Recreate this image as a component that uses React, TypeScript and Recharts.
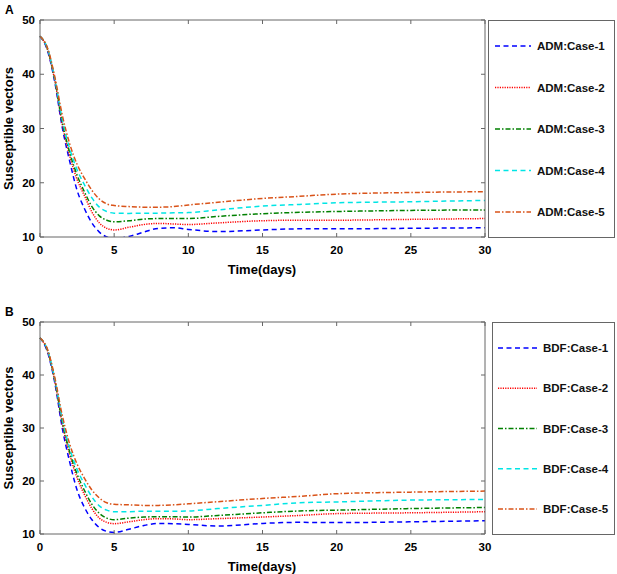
import React from 'react';
import { LineChart, Line, XAxis, YAxis, Legend, Label } from 'recharts';

// time grid (days)
const time = [0, 0.5, 1, 1.5, 2, 2.5, 3, 3.5, 4, 4.5, 5, 6, 7, 8, 9, 10, 12, 15, 17.5, 20, 25, 30];

// panel A: ADM
const admCase1 = [47, 44.4, 38.5, 30.2, 24, 18.6, 15.2, 12.6, 10.9, 10.0, 9.7, 10.1, 10.9, 11.6, 11.7, 11.4, 11.0, 11.3, 11.5, 11.5, 11.6, 11.7];
const admCase2 = [47, 44.6, 38.8, 30.8, 25, 20.6, 17.6, 14.6, 12.6, 11.6, 11.3, 11.8, 12.3, 12.5, 12.4, 12.3, 12.6, 13.0, 13.1, 13.1, 13.25, 13.4];
const admCase3 = [47, 44.7, 39.0, 31.2, 25.6, 21.4, 18.3, 15.6, 13.9, 13.1, 12.8, 13.0, 13.3, 13.4, 13.4, 13.4, 13.8, 14.3, 14.55, 14.7, 14.9, 15.0];
const admCase4 = [47, 44.8, 39.2, 31.7, 26.3, 22.4, 19.6, 17.2, 15.5, 14.7, 14.4, 14.35, 14.4, 14.4, 14.45, 14.5, 15.0, 15.7, 16.0, 16.3, 16.5, 16.75];
const admCase5 = [47, 44.9, 39.5, 32.5, 27.2, 23.4, 20.8, 18.6, 17.0, 16.1, 15.8, 15.6, 15.5, 15.5, 15.6, 15.9, 16.4, 17.1, 17.5, 17.9, 18.2, 18.35];

// panel B: BDF
const bdfCase1 = [47, 44.4, 38.5, 30.0, 23.6, 18.3, 15.0, 12.7, 11.2, 10.5, 10.3, 10.9, 11.6, 12.0, 11.95, 11.8, 11.5, 12.0, 12.2, 12.15, 12.3, 12.5];
const bdfCase2 = [47, 44.6, 38.8, 30.8, 25.0, 20.6, 17.4, 14.8, 13.0, 12.2, 11.95, 12.3, 12.7, 12.9, 12.85, 12.7, 12.9, 13.2, 13.5, 13.85, 14.0, 14.2];
const bdfCase3 = [47, 44.7, 39.0, 31.2, 25.5, 21.3, 18.2, 15.6, 13.9, 13.0, 12.7, 13.0, 13.2, 13.25, 13.25, 13.2, 13.5, 14.0, 14.35, 14.5, 14.8, 15.0];
const bdfCase4 = [47, 44.8, 39.2, 31.7, 26.2, 22.2, 19.4, 17.0, 15.3, 14.5, 14.2, 14.2, 14.3, 14.3, 14.3, 14.35, 14.8, 15.4, 15.9, 16.05, 16.4, 16.5];
const bdfCase5 = [47, 44.9, 39.5, 32.4, 27.0, 23.2, 20.5, 18.3, 16.8, 15.9, 15.6, 15.5, 15.4, 15.4, 15.5, 15.7, 16.1, 16.7, 17.1, 17.6, 17.9, 18.1];

const xTicks = [0, 5, 10, 15, 20, 25, 30];
const yTicks = [10, 20, 30, 40, 50];

const caseNames = ['Case-1', 'Case-2', 'Case-3', 'Case-4', 'Case-5'];
const colors = ['#0000FF', '#FF0000', '#008000', '#00E5E5', '#D95319'];
const dashes = ['5 3.5', '1.2 1.2', '5 2 1.5 2', '5 3.5', '5 2 1.5 2'];

const FONT = '"Liberation Sans", Arial, sans-serif';
const AXIS = '#666666';

const buildRows = (series: number[][]) =>
  time.map((t, i) => {
    const row: any = { t };
    series.forEach((s, k) => (row['c' + k] = s[i]));
    return row;
  });

const rowsA = buildRows([admCase1, admCase2, admCase3, admCase4, admCase5]);
const rowsB = buildRows([bdfCase1, bdfCase2, bdfCase3, bdfCase4, bdfCase5]);

const tickStyle = { fontFamily: FONT, fontSize: 11.5, fontWeight: 'bold', fill: '#000' };

const makeLegend = (prefix: string, w: number, h: number, x1: number, x2: number) => () => {
  const step = (h - 52) / 4;
  return (
    <svg width={w} height={h} style={{ display: 'block' }}>
      <rect x={0.5} y={0.5} width={w - 1} height={h - 1} fill="#fff" stroke={AXIS} strokeWidth={1} />
      {caseNames.map((c, i) => (
        <g key={c}>
          <line x1={x1} x2={x2} y1={26 + i * step} y2={26 + i * step} stroke={colors[i]} strokeWidth={1.5} strokeDasharray={dashes[i]} />
          <text x={x2 + 6} y={26 + i * step + 4} fontFamily={FONT} fontSize={11.5} fontWeight="bold" fill="#111">
            {prefix + ':' + c}
          </text>
        </g>
      ))}
    </svg>
  );
};

type PanelProps = {
  letter: string;
  prefix: string;
  rows: any[];
  top: number;
  plotH: number;
  legendX: number;
  legendW: number;
  lineX1: number;
  lineX2: number;
};

const Panel = ({ letter, prefix, rows, top, plotH, legendX, legendW, lineX1, lineX2 }: PanelProps) => {
  const H = 287;
  const bottom = H - top - plotH;
  const midY = top + plotH / 2;
  return (
    <div style={{ position: 'relative', width: 617, height: H }}>
      <LineChart width={617} height={H} data={rows} margin={{ top: top - 1, right: 131, bottom: bottom - 30, left: 0 }}>
        <XAxis dataKey="t" type="number" domain={[0, 30]} ticks={xTicks} xAxisId="b"
          height={30} stroke={AXIS} tickSize={-4} tickMargin={13} tick={tickStyle} interval={0}>
          <Label content={() => (
            <text x={262} y={top + plotH + 36.5} textAnchor="middle" fontFamily={FONT} fontSize={13} fontWeight="bold">Time(days)</text>
          )} />
        </XAxis>
        <XAxis dataKey="t" type="number" domain={[0, 30]} ticks={xTicks} xAxisId="top" orientation="top"
          height={1} stroke={AXIS} tickSize={-4} tickFormatter={() => ''} interval={0} />
        <YAxis type="number" domain={[10, 50]} ticks={yTicks} yAxisId="l" width={40} allowDataOverflow
          stroke={AXIS} tickSize={-4} tickMargin={9} tick={tickStyle} interval={0}>
          <Label content={() => (
            <text x={13} y={midY} transform={`rotate(-90 13 ${midY})`} textAnchor="middle" fontFamily={FONT} fontSize={13} fontWeight="bold">Susceptible vectors</text>
          )} />
        </YAxis>
        <YAxis type="number" domain={[10, 50]} ticks={yTicks} yAxisId="r" orientation="right" width={1} allowDataOverflow
          stroke={AXIS} tickSize={-4} tickFormatter={() => ''} interval={0} />
        <Legend layout="vertical" align="center" verticalAlign="middle"
          wrapperStyle={{ position: 'absolute', left: legendX, top: top, width: legendW, height: plotH + 1, margin: 0 }}
          content={makeLegend(prefix, legendW, plotH + 1, lineX1, lineX2)} />
        {caseNames.map((c, k) => (
          <Line key={c} xAxisId="b" yAxisId="l" type="monotone" dataKey={'c' + k} name={prefix + ':' + c}
            stroke={colors[k]} strokeWidth={1.5} strokeDasharray={dashes[k]} dot={false} isAnimationActive={false} />
        ))}
      </LineChart>
      <div style={{ position: 'absolute', left: 5, top: top - 17, fontFamily: FONT, fontSize: 12, fontWeight: 'bold' }}>{letter}</div>
    </div>
  );
};

export default function App() {
  return (
    <div style={{ position: 'absolute', left: 0, top: 0, width: 617, height: 574, background: '#fff' }}>
      <Panel letter="A" prefix="ADM" rows={rowsA} top={20} plotH={217} legendX={488} legendW={127} lineX1={7} lineX2={43} />
      <Panel letter="B" prefix="BDF" rows={rowsB} top={35} plotH={212} legendX={492} legendW={123} lineX1={6} lineX2={45} />
    </div>
  );
}
